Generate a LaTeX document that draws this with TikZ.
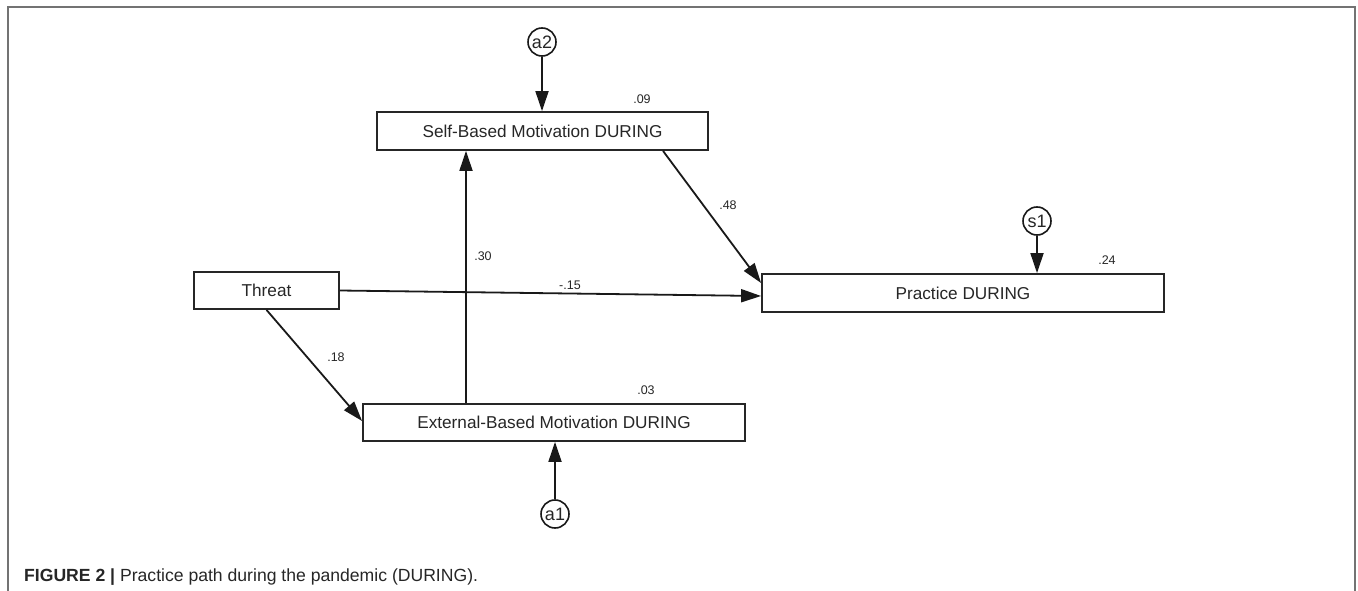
\documentclass[tikz,border=0pt]{standalone}
\usepackage{fontspec}
\setmainfont{Liberation Sans}
\usetikzlibrary{arrows.meta,calc}
\begin{document}
\begin{tikzpicture}[x=1pt,y=-1pt,
  varbox/.style={draw=black!85,line width=1.8pt,inner sep=0pt,text=black!85,
    font=\fontsize{17.2}{20}\selectfont},
  errc/.style={circle,draw=black!90,line width=1.6pt,inner sep=0pt,minimum size=28pt,
    font=\fontsize{18}{20}\selectfont,text=black!85},
  path/.style={line width=1.8pt,draw=black!90,-{Triangle[length=20pt,width=13pt]}},
  coef/.style={font=\fontsize{12.5}{14}\selectfont,text=black!85,inner sep=0pt},
  frame/.style={draw=black!55,line width=2pt}]
\useasboundingbox (0,0) rectangle (1358,591);
\draw[frame] (8,591) -- (8,7) -- (1355,7) -- (1355,591);
% variables
\node[varbox,minimum width=331pt,minimum height=38pt] (sb) at (542.5,131) {Self-Based Motivation DURING};
\node[varbox,minimum width=145pt,minimum height=37pt] (th) at (266.5,290.5) {Threat};
\node[varbox,minimum width=402pt,minimum height=38pt] (pr) at (963,293) {Practice DURING};
\node[varbox,minimum width=382pt,minimum height=37pt] (ex) at (554,422.5) {External-Based Motivation DURING};
% error terms
\node[errc] (a2) at (542,42) {a2};
\node[errc] (s1) at (1037,221) {s1};
\node[errc] (a1) at (555,514) {a1};
% paths
\draw[path] (a2) -- (a2 |- sb.north);
\draw[path] (s1) -- (s1 |- pr.north);
\draw[path] (a1) -- (a1 |- ex.south);
\draw[path] ([xshift=120.5pt]sb.south) -- ([yshift=10pt]pr.west);
\draw[path] (th.east) -- ([yshift=-3pt]pr.west);
\draw[path] (th.south) -- ([yshift=1.5pt]ex.west);
\draw[path] ([xshift=-88pt]ex.north) -- ([xshift=-88pt]ex.north |- sb.south);
% coefficients
\node[coef] (c09) at (642,99) {.09};
\node[coef] (c48) at (728,205) {.48};
\node[coef] (c30) at (483,256) {.30};
\node[coef] (c15) at (570,285) {-.15};
\node[coef] (c24) at (1107,260) {.24};
\node[coef] (c18) at (336,357) {.18};
\node[coef] (c03) at (646,390) {.03};
% caption
\node[anchor=west,inner sep=0pt,font=\fontsize{17.6}{20}\selectfont,text=black!85] (cap) at (24,577)
  {\textbf{FIGURE 2 |} Practice path during the pandemic (DURING).};
\end{tikzpicture}
\end{document}
